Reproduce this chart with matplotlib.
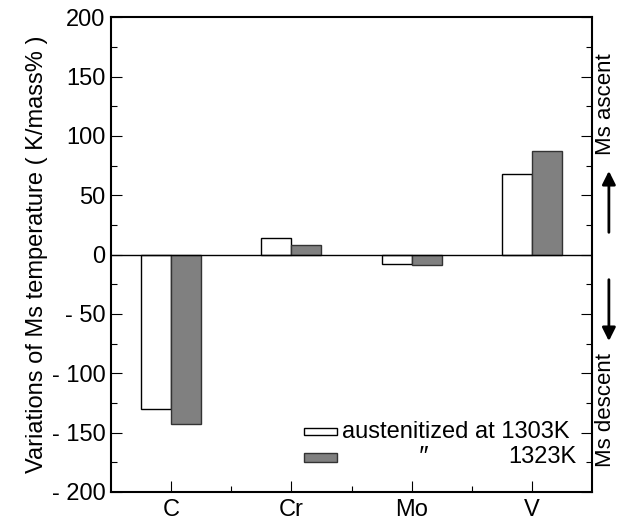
import matplotlib.pyplot as plt
from matplotlib.patches import Rectangle

plt.rcParams['font.family'] = ['Liberation Sans', 'DejaVu Sans']

elements = ['C', 'Cr', 'Mo', 'V']
ms_1303 = [-130, 14, -8, 68]     # austenitized at 1303K
ms_1323 = [-143, 8, -9, 87]      # austenitized at 1323K
yticks = [-200, -150, -100, -50, 0, 50, 100, 150, 200]
ylabels = ['- 200', '- 150', '- 100', '- 50', '0', '50', '100', '150', '200']

fig = plt.figure(figsize=(6.18, 5.21), dpi=100)
ax = fig.add_axes([0.1796, 0.0557, 0.7784, 0.9113])

w = 0.25
x = list(range(len(elements)))
ax.bar([i - w / 2 for i in x], ms_1303, width=w, color='white', edgecolor='black', linewidth=1)
ax.bar([i + w / 2 for i in x], ms_1323, width=w, color='#808080', edgecolor='#333333', linewidth=1)
ax.axhline(0, color='black', linewidth=1)

ax.set_xlim(-0.5, 3.5)
ax.set_ylim(-200, 200)
ax.set_xticks(x)
ax.set_xticklabels(elements, fontsize=17)
ax.set_xticks([0.5, 1.5, 2.5], minor=True)
ax.set_yticks(yticks)
ax.set_yticklabels(ylabels, fontsize=17)
ax.set_yticks(range(-175, 200, 50), minor=True)
ax.tick_params(direction='in', right=True, length=8, width=0.8, pad=4)
ax.tick_params(axis='x', pad=5)
ax.tick_params(which='minor', direction='in', right=True, length=4, width=0.8)
for s in ax.spines.values():
    s.set_linewidth(1.5)

ax.set_ylabel('Variations of Ms temperature ( K/mass% )', fontsize=17, labelpad=3)

# legend drawn by hand
ax.add_patch(Rectangle((0.401, 0.12), 0.068, 0.015, transform=ax.transAxes,
                       facecolor='white', edgecolor='black', linewidth=1, clip_on=False))
ax.add_patch(Rectangle((0.401, 0.063), 0.068, 0.02, transform=ax.transAxes,
                       facecolor='#808080', edgecolor='#333333', linewidth=1, clip_on=False))
ax.text(0.48, 0.127, 'austenitized at 1303K', transform=ax.transAxes, fontsize=17, va='center')
ax.text(0.638, 0.074, '″', transform=ax.transAxes, fontsize=19, va='center', style='italic')
ax.text(0.967, 0.074, '1323K', transform=ax.transAxes, fontsize=17, va='center', ha='right')

# ascent / descent marks on the right
fig.text(0.979, 0.80, 'Ms ascent', rotation=90, fontsize=16, ha='center', va='center')
fig.text(0.979, 0.213, 'Ms descent', rotation=90, fontsize=16, ha='center', va='center')
ax.annotate('', xy=(1.035, 0.682), xytext=(1.035, 0.541), xycoords='axes fraction',
            arrowprops=dict(arrowstyle='-|>', color='black', lw=2, mutation_scale=20))
ax.annotate('', xy=(1.035, 0.312), xytext=(1.035, 0.453), xycoords='axes fraction',
            arrowprops=dict(arrowstyle='-|>', color='black', lw=2, mutation_scale=20))

fig.savefig('out.png', dpi=100)
